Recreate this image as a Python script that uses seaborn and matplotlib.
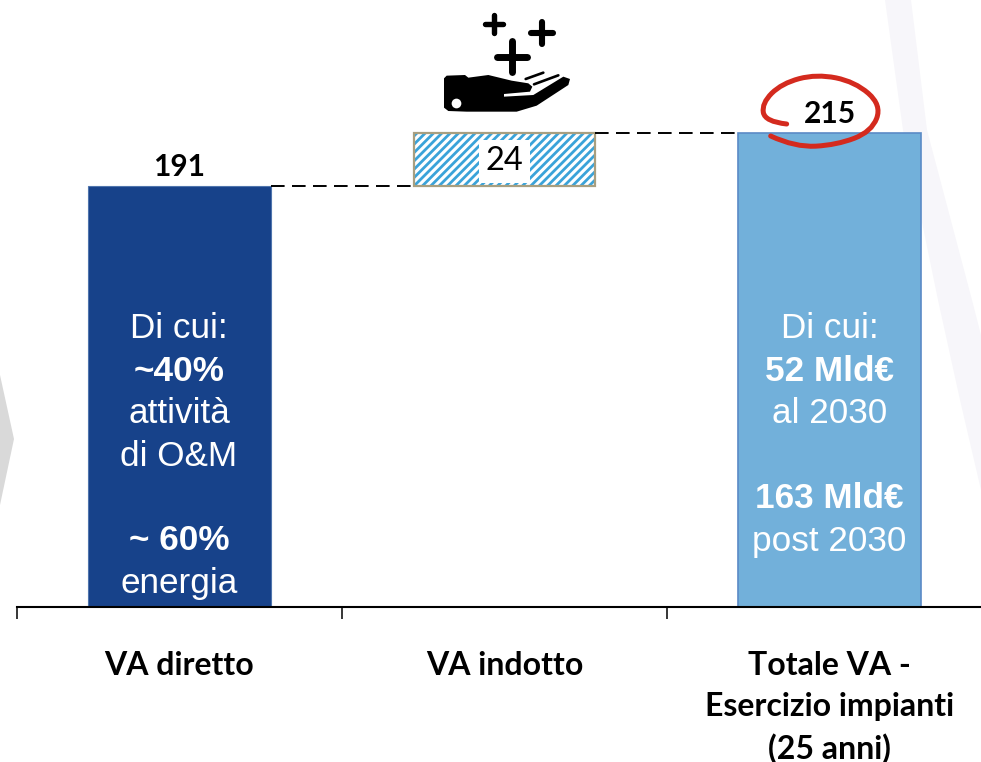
import matplotlib
matplotlib.use("Agg")
import matplotlib.pyplot as plt
from matplotlib.patches import Polygon, PathPatch
from matplotlib.path import Path
import numpy as np
import seaborn as sns

# Dati
categorie = ["VA diretto", "VA indotto", "Totale VA -\nEsercizio impianti\n(25 anni)"]
va_diretto = 191
va_indotto = 24
va_totale = 215

testo_diretto = [("Di cui:", False), ("~40%", True), ("attività", False), ("di O&M", False),
                 ("", False), ("~ 60%", True), ("energia", False)]
testo_totale = [("Di cui:", False), ("52 Mld€", True), ("al 2030", False), ("", False),
                ("163 Mld€", True), ("post 2030", False)]

sns.set_style("white")
plt.rcParams["font.family"] = ["Lato", "DejaVu Sans"]
plt.rcParams["hatch.linewidth"] = 2.0

fig = plt.figure(figsize=(9.81, 7.62), dpi=100)

# Sfondo in coordinate pixel
sfondo = fig.add_axes([0, 0, 1, 1], zorder=0)
sfondo.set_xlim(0, 981)
sfondo.set_ylim(762, 0)
sfondo.axis("off")
sfondo.add_patch(Polygon([(0, 375), (14, 439), (0, 505)], color="#d9d9d9", lw=0))
sfondo.add_patch(Polygon([(885, 0), (911, 0), (927, 130), (972, 300), (981, 335), (981, 490),
                          (960, 400), (938, 300), (903, 130)], color="#f7f6fa", lw=0))

# Asse principale: baseline a y=607, 2.204 px per unita
ax = fig.add_axes([17 / 981, (762 - 607) / 762, 975 / 981, 607 / 762], zorder=1)
ax.patch.set_alpha(0)
larghezza = 0.566

sns.barplot(x=[categorie[0]], y=[va_diretto], order=categorie, color="#17428a", saturation=1,
            width=larghezza, edgecolor="#4f75ad", linewidth=0.8, ax=ax)
sns.barplot(x=[categorie[1]], y=[va_indotto], order=categorie, bottom=va_diretto, color="white",
            saturation=1, width=0.557, edgecolor="#3aa3d9", linewidth=0, hatch="////", ax=ax)
sns.barplot(x=[categorie[1]], y=[va_indotto], order=categorie, bottom=va_diretto, fill=False,
            width=0.557, edgecolor="#a89f80", linewidth=1.6, ax=ax)
sns.barplot(x=[categorie[2]], y=[va_totale], order=categorie, color="#72b0da", saturation=1,
            width=larghezza, edgecolor="#5a8ac6", linewidth=1.2, ax=ax)

# Connettori tratteggiati
ax.plot([larghezza / 2, 1 - 0.557 / 2], [va_diretto, va_diretto], color="black", lw=1.4,
        dashes=(7, 3.8))
ax.plot([1 + 0.557 / 2, 2 - larghezza / 2], [va_totale, va_totale], color="black", lw=1.4,
        dashes=(7, 3.8))

ax.set_xlim(-0.5, 2.5)
ax.set_ylim(0, 607 / 2.204)
ax.set_xlabel("")
ax.set_ylabel("")
ax.set_yticks([])
sns.despine(ax=ax, left=True)
ax.spines["bottom"].set_linewidth(1.5)
ax.spines["bottom"].set_color("black")
ax.set_xticks([-0.5, 0.5, 1.5], minor=True)
ax.tick_params(axis="x", which="minor", bottom=True, length=8.5, width=1.1, color="black")
ax.tick_params(axis="x", which="major", bottom=False, length=0, pad=31.5)
for lab in ax.get_xticklabels():
    lab.set_fontsize(23)
    lab.set_fontweight("bold")
    lab.set_linespacing(1.49)
    lab.set_color("black")
    lab.set_verticalalignment("top")

# Etichette dei valori
ax.text(0, va_diretto + 10 - 1.3, str(va_diretto), ha="center", va="center", fontsize=21.5, fontweight="bold", color="black")
ax.text(1, va_diretto + va_indotto / 2 - 0.8, str(va_indotto), ha="center", va="center", fontsize=23.5, color="black",
        bbox=dict(facecolor="white", edgecolor="none", pad=4.5))
ax.text(2, va_totale + 10 - 1.3, str(va_totale), ha="center", va="center", fontsize=21.5, fontweight="bold", color="black")

# Testi dentro le barre, icona e cerchio in coordinate pixel
sopra = fig.add_axes([0, 0, 1, 1], zorder=2)
sopra.set_xlim(0, 981)
sopra.set_ylim(762, 0)
sopra.axis("off")

for xc, righe in ((179, testo_diretto), (829.5, testo_totale)):
    for i, (riga, grassetto) in enumerate(righe):
        sopra.text(xc, 329 + i * 42.4, riga, ha="center", va="center", color="white", fontsize=25.3,
                   family="Liberation Sans", fontweight="bold" if grassetto else "normal")


def mano_xy(punti):
    return [(440 + x / 3, 65 + y / 3) for x, y in punti]


# Mano
mano = [(12, 40), (20, 32), (75, 30), (85, 38), (145, 30), (215, 47), (265, 55), (277, 65), (270, 80),
        (192, 87), (192, 95), (280, 90), (370, 35), (390, 42), (385, 60), (290, 122), (230, 140),
        (80, 140), (25, 138), (12, 128)]
sopra.add_patch(Polygon(mano_xy(mano), closed=True, color="black", lw=0))
xm, ym = mano_xy([(49, 114)])[0]
sopra.plot([xm], [ym], "o", color="white", ms=7, mew=0)
for a, b in (((257, 42), (310, 23)), ((282, 58), (355, 31))):
    (x0, y0), (x1, y1) = mano_xy([a, b])
    sopra.plot([x0, x1], [y0, y1], color="black", lw=1.9)


def zoom_xy(punti):
    return [(400 + x / 3, y / 3) for x, y in punti]


# Piu
for (cx, cy, braccio, spess) in ((282, 72, 27, 3.9), (425, 98, 33, 4.4), (336, 170, 46, 5.0)):
    (x0, y0), (x1, y1) = zoom_xy([(cx - braccio, cy), (cx + braccio, cy)])
    sopra.plot([x0, x1], [y0, y1], color="black", lw=spess, solid_capstyle="round")
    (x0, y0), (x1, y1) = zoom_xy([(cx, cy - braccio), (cx, cy + braccio)])
    sopra.plot([x0, x1], [y0, y1], color="black", lw=spess, solid_capstyle="round")

# Cerchio rosso
ctrl = np.array([(200, 192), (135, 185), (125, 130), (185, 70), (290, 42), (405, 65), (485, 135),
                 (455, 215), (350, 255), (225, 262), (152, 228)], dtype=float) / 3 + (720, 60)
verts = [ctrl[0]]
codes = [Path.MOVETO]
for i in range(1, len(ctrl) - 1):
    fine = (ctrl[i] + ctrl[i + 1]) / 2 if i < len(ctrl) - 2 else ctrl[i + 1]
    verts += [ctrl[i], fine]
    codes += [Path.CURVE3, Path.CURVE3]
sopra.add_patch(PathPatch(Path(verts, codes), fill=False, edgecolor="#d42a1e", lw=3.6, capstyle="round"))

fig.savefig("out.png", dpi=100)
